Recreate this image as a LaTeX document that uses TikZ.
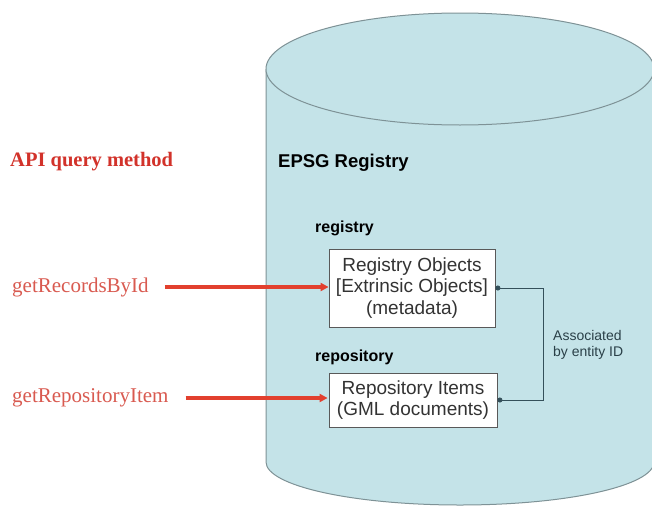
\documentclass[tikz,border=0pt]{standalone}
\usepackage{fontspec}
\setmainfont{Liberation Serif}
\setsansfont{Liberation Sans}
\usetikzlibrary{arrows.meta}
\definecolor{cylfill}{HTML}{C4E3E8}
\definecolor{cylline}{HTML}{7E9296}
\definecolor{apired}{HTML}{D2322A}
\definecolor{methred}{HTML}{D95A50}
\definecolor{arrred}{HTML}{E2402E}
\definecolor{conn}{HTML}{34505A}
\definecolor{boxtext}{HTML}{333333}
\tikzset{
  cyl/.style={fill=cylfill, draw=cylline, line width=1pt},
  objbox/.style={draw=gray!70!black, fill=white, line width=0.8pt, align=center, inner sep=0pt,
    text=boxtext, font=\sffamily\fontsize{19}{21.5}\selectfont},
  seclabel/.style={anchor=west, inner sep=0pt, font=\sffamily\bfseries\fontsize{16}{18}\selectfont},
  methlabel/.style={anchor=west, inner sep=0pt, text=methred, font=\rmfamily\fontsize{21}{24}\selectfont},
  redarrow/.style={draw=arrred, line width=3.2pt, -{Triangle[length=8pt,width=8pt]}},
  assoc/.style={draw=conn, line width=1pt, {Circle[length=5pt]}-{Circle[length=5pt]}}
}
\begin{document}
\begin{tikzpicture}[x=1pt,y=-1pt]
\useasboundingbox (0,0) rectangle (652,506);
\clip (0,0) rectangle (652,506);
\fill[white] (0,0) rectangle (652,506);
% cylinder body
\fill[cylfill] (266,69) -- (266,462) arc[start angle=180,end angle=0,x radius=194,y radius=43] -- (654,69) -- cycle;
\draw[cylline, line width=1pt] (266,69) -- (266,462) arc[start angle=180,end angle=0,x radius=194,y radius=43] -- (654,69);
\draw[cyl] (460,69) ellipse[x radius=194, y radius=56];
% texts
\node[anchor=west, inner sep=0pt, text=apired, font=\rmfamily\bfseries\fontsize{20.5}{24}\selectfont] (api) at (10,162) {API query method};
\node[anchor=west, inner sep=0pt, font=\sffamily\bfseries\fontsize{18.5}{22}\selectfont] (epsg) at (278,163) {EPSG Registry};
\node[seclabel] (reg) at (315,228) {registry};
\node[seclabel] (repo) at (315,357) {repository};
\node[objbox, minimum width=166pt, minimum height=78pt] (b1) at (412,288) {Registry Objects\\{}[Extrinsic Objects]\\(metadata)};
\node[objbox, minimum width=168pt, minimum height=54pt] (b2) at (413,400) {Repository Items\\(GML documents)};
\node[methlabel] (m1) at (12,287) {getRecordsById};
\node[methlabel] (m2) at (12,398) {getRepositoryItem};
\node[anchor=west, inner sep=0pt, align=left, text=conn!80!black, font=\sffamily\fontsize{14}{16}\selectfont] (as) at (553,345) {Associated\\by entity ID};
% arrows
\draw[redarrow] ([xshift=16pt]m1.east) -- (m1 -| b1.west);
\draw[redarrow] ([xshift=17pt]m2.east) -- ([xshift=-1pt]m2 -| b2.west);
\draw[assoc] (b1.east) -- ++(48,0) |- (b2.east);
\end{tikzpicture}
\end{document}
